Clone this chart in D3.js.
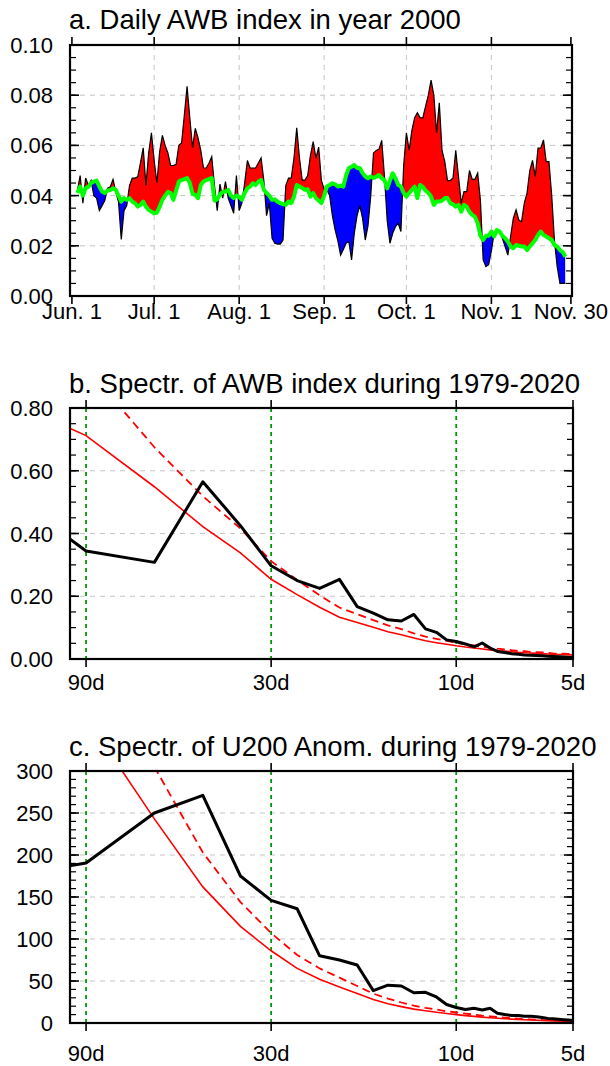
<!DOCTYPE html>
<html lang="en">
<head>
<meta charset="UTF-8">
<title>AWB index and spectra</title>
<style>
  body { margin: 0; background: #fff; }
  text { font-family: "Liberation Sans", Arial, Helvetica, sans-serif; fill: #000; }
  .title { font-size: 27.5px; }
  .tlab { font-size: 22px; }
</style>
</head>
<body>
<svg id="fig" width="610" height="1066"></svg>
<script src="https://d3js.org/d3.v7.min.js"></script>
<script>
// ---- panel a: daily AWB index (Jun 3 .. Nov 28, day 0 = Jun 1) ----
var days = d3.range(2, 181);
var awb = [
  0.042, 0.048, 0.037, 0.047, 0.044, 0.046, 0.040, 0.039, 0.034, 0.036,
  0.038, 0.043, 0.0435, 0.0465, 0.0415, 0.0375, 0.0225, 0.034, 0.036, 0.044,
  0.047, 0.047, 0.0475, 0.053, 0.059, 0.044, 0.057, 0.065, 0.054, 0.045,
  0.0575, 0.064, 0.060, 0.057, 0.052, 0.052, 0.0525, 0.060, 0.061, 0.072,
  0.0835, 0.071, 0.059, 0.0668, 0.063, 0.058, 0.051, 0.051, 0.053, 0.0555,
  0.044, 0.034, 0.0446, 0.039, 0.0456, 0.039, 0.036, 0.033, 0.048, 0.034,
  0.037, 0.045, 0.054, 0.051, 0.051, 0.051, 0.053, 0.055, 0.046, 0.032,
  0.037, 0.023, 0.021, 0.0207, 0.0207, 0.0223, 0.044, 0.047, 0.047, 0.055,
  0.067, 0.055, 0.0462, 0.0462, 0.048, 0.056, 0.0615, 0.0549, 0.0593, 0.046,
  0.0425, 0.0423, 0.040, 0.032, 0.0263, 0.022, 0.0163, 0.0185, 0.021, 0.0217,
  0.0144, 0.025, 0.032, 0.036, 0.031, 0.0223, 0.028, 0.040, 0.057, 0.058,
  0.0585, 0.062, 0.0476, 0.030, 0.021, 0.025, 0.0276, 0.029, 0.0257, 0.052,
  0.065, 0.058, 0.066, 0.071, 0.073, 0.071, 0.071, 0.0756, 0.080, 0.086,
  0.080, 0.065, 0.077, 0.058, 0.0535, 0.046, 0.046, 0.047, 0.058, 0.0476,
  0.037, 0.0416, 0.0416, 0.050, 0.0465, 0.0465, 0.049, 0.038, 0.0144, 0.0117,
  0.0125, 0.018, 0.025, 0.0256, 0.0257, 0.023, 0.0197, 0.0163, 0.0237, 0.031,
  0.0343, 0.0303, 0.0296, 0.037, 0.041, 0.050, 0.054, 0.0476, 0.0589, 0.0589,
  0.0622, 0.0535, 0.0535, 0.040, 0.022, 0.0117, 0.005, 0.005, 0.005
];
var clim = [
  0.041, 0.0436, 0.040, 0.043, 0.0435, 0.045, 0.0456, 0.046, 0.0436, 0.0416,
  0.041, 0.042, 0.0422, 0.0429, 0.0423, 0.040, 0.0376, 0.039, 0.0383, 0.039,
  0.0376, 0.037, 0.0356, 0.0363, 0.0376, 0.0356, 0.0343, 0.0336, 0.033, 0.0332,
  0.0356, 0.0383, 0.040, 0.0415, 0.041, 0.0383, 0.042, 0.0456, 0.0462, 0.0466,
  0.047, 0.045, 0.0407, 0.0403, 0.039, 0.0442, 0.0456, 0.0462, 0.0466, 0.047,
  0.038, 0.0385, 0.0405, 0.0414, 0.0416, 0.0423, 0.040, 0.039, 0.040, 0.0395,
  0.0383, 0.041, 0.0429, 0.0436, 0.0449, 0.0442, 0.0455, 0.0462, 0.0423, 0.041,
  0.040, 0.0383, 0.0385, 0.0376, 0.037, 0.0366, 0.0363, 0.0376, 0.037, 0.0396,
  0.0442, 0.0436, 0.043, 0.0423, 0.0425, 0.0396, 0.041, 0.039, 0.038, 0.037,
  0.040, 0.0436, 0.0442, 0.0449, 0.0445, 0.0436, 0.044, 0.0436, 0.048, 0.051,
  0.0515, 0.0522, 0.051, 0.051, 0.049, 0.0476, 0.0469, 0.0476, 0.047, 0.0475,
  0.0482, 0.0469, 0.0462, 0.0429, 0.046, 0.0489, 0.0469, 0.0442, 0.0436, 0.041,
  0.0396, 0.041, 0.0423, 0.0436, 0.039, 0.0442, 0.0435, 0.042, 0.041, 0.0396,
  0.0363, 0.0376, 0.0376, 0.038, 0.039, 0.039, 0.037, 0.0365, 0.0356, 0.0363,
  0.0336, 0.0363, 0.0356, 0.0335, 0.0323, 0.0316, 0.029, 0.024, 0.0223, 0.024,
  0.024, 0.0257, 0.0237, 0.0263, 0.0257, 0.024, 0.023, 0.0217, 0.0197, 0.019,
  0.0203, 0.020, 0.0197, 0.0197, 0.0183, 0.0197, 0.021, 0.0223, 0.0243, 0.0257,
  0.0243, 0.0237, 0.023, 0.0223, 0.0203, 0.0197, 0.0183, 0.0175, 0.0157
];
var monthDays = [0, 30, 61, 92, 122, 153, 182];
var monthLabels = ["Jun. 1", "Jul. 1", "Aug. 1", "Sep. 1", "Oct. 1", "Nov. 1", "Nov. 30"];

// ---- panels b, c: spectra at periods 180/k days ----
var periods = [180, 90, 60, 45, 36, 30, 25.71, 22.5, 20, 18, 16.36, 15, 13.85, 12.86, 12, 11.25,
  10.59, 10, 9.47, 9, 8.57, 8.18, 7.83, 7.5, 7.2, 6.92, 6.67, 6.43, 6.21, 6, 5.81, 5.63, 5.45, 5.29, 5.14, 5];
var awbSpec = [0.62, 0.344, 0.308, 0.565, 0.425, 0.297, 0.25, 0.225, 0.254, 0.167, 0.146, 0.125,
  0.121, 0.142, 0.096, 0.085, 0.061, 0.056, 0.048, 0.039, 0.051, 0.035, 0.024, 0.021, 0.017,
  0.015, 0.013, 0.012, 0.011, 0.010, 0.009, 0.008, 0.007, 0.006, 0.005, 0.005];
var awbRed = [0.88, 0.712, 0.549, 0.422, 0.338, 0.254, 0.205, 0.165, 0.133, 0.116, 0.101, 0.087,
  0.077, 0.067, 0.058, 0.052, 0.047, 0.042, 0.038, 0.035, 0.032, 0.029, 0.027, 0.025, 0.023,
  0.021, 0.020, 0.019, 0.018, 0.017, 0.016, 0.015, 0.014, 0.014, 0.013, 0.013];
var awbSig = [1.15, 0.93, 0.675, 0.519, 0.416, 0.312, 0.252, 0.203, 0.164, 0.143, 0.124, 0.107,
  0.095, 0.082, 0.071, 0.064, 0.058, 0.052, 0.047, 0.043, 0.039, 0.036, 0.033, 0.031, 0.028,
  0.026, 0.025, 0.023, 0.022, 0.021, 0.020, 0.018, 0.017, 0.017, 0.016, 0.016];
var u200Spec = [167, 190.5, 250, 271, 175, 146, 136, 80, 75, 69, 38.5, 45, 44, 36, 36.5, 31,
  22, 18.5, 16, 17.5, 15.5, 17.5, 11.5, 10, 9, 9, 8, 8, 7.5, 6.5, 5.5, 5, 4.5, 4, 3.5, 3];
var u200Red = [480, 364, 243, 162, 115, 86, 65, 52, 43, 35, 28, 23, 19.5, 16.5, 14.5, 12.8,
  11.3, 10, 8.8, 7.9, 7, 6.3, 5.7, 5.1, 4.6, 4.2, 3.8, 3.5, 3.2, 2.9, 2.7, 2.5, 2.3, 2.1, 2.0, 1.9];
var u200Sig = [600, 455, 305, 203, 144, 107, 81, 65, 54, 44, 35, 29, 24.4, 20.6, 18, 16,
  14, 12.5, 11.2, 10, 8.8, 7.9, 7.1, 6.4, 5.8, 5.2, 4.8, 4.4, 4, 3.6, 3.4, 3.1, 2.9, 2.6, 2.5, 2.4];
var periodTicks = [90, 30, 10, 5];
var periodLabels = ["90d", "30d", "10d", "5d"];

var svg = d3.select("#fig");
var defs = svg.append("defs");

// gridlines, inward y ticks on both sides, frame
function yFurniture(g, box, y, majors, minors, fmt) {
  g.selectAll(".hgrid").data(majors.slice(1, -1)).enter().append("line")
    .attr("x1", box.left).attr("x2", box.right)
    .attr("y1", function(d) { return y(d); }).attr("y2", function(d) { return y(d); })
    .attr("stroke", "#c4c4c4").attr("stroke-width", 1).attr("stroke-dasharray", "5,5");
  [box.left, box.right].forEach(function(x0) {
    var dir = x0 == box.left ? 1 : -1;
    g.selectAll(null).data(minors).enter().append("line")
      .attr("x1", x0).attr("x2", x0 + dir * 6)
      .attr("y1", function(d) { return y(d); }).attr("y2", function(d) { return y(d); })
      .attr("stroke", "#000").attr("stroke-width", 1.2);
    g.selectAll(null).data(majors).enter().append("line")
      .attr("x1", x0).attr("x2", x0 + dir * 9)
      .attr("y1", function(d) { return y(d); }).attr("y2", function(d) { return y(d); })
      .attr("stroke", "#000").attr("stroke-width", 1.6);
  });
  g.selectAll(".ylab").data(majors).enter().append("text")
    .attr("class", "tlab")
    .attr("x", 53).attr("y", function(d) { return y(d) + 8; })
    .attr("text-anchor", "end")
    .text(fmt);
}

function xTicks(g, box, x, vals, labels, labelY) {
  [box.bottom, box.top].forEach(function(y0) {
    var dir = y0 == box.bottom ? 1 : -1;
    g.selectAll(null).data(vals).enter().append("line")
      .attr("x1", function(d) { return x(d); }).attr("x2", function(d) { return x(d); })
      .attr("y1", y0).attr("y2", y0 + dir * 8)
      .attr("stroke", "#000").attr("stroke-width", 1.6);
  });
  g.selectAll(null).data(vals).enter().append("text")
    .attr("class", "tlab")
    .attr("x", function(d) { return x(d); }).attr("y", labelY)
    .attr("text-anchor", "middle")
    .text(function(d, i) { return labels[i]; });
}

function frame(g, box) {
  g.append("rect")
    .attr("x", box.left).attr("y", box.top)
    .attr("width", box.right - box.left).attr("height", box.bottom - box.top)
    .attr("fill", "none").attr("stroke", "#000").attr("stroke-width", 2.2);
}

function addClip(id, box) {
  defs.append("clipPath").attr("id", id).append("rect")
    .attr("x", box.left).attr("y", box.top)
    .attr("width", box.right - box.left).attr("height", box.bottom - box.top);
}

// ================= panel a =================
var boxA = { left: 70, right: 572, top: 45, bottom: 296 };
var xa = d3.scaleLinear().domain([-0.7, 182.4]).range([boxA.left, boxA.right]);
var ya = d3.scaleLinear().domain([0, 0.1]).range([boxA.bottom, boxA.top]);
var ga = svg.append("g");
addClip("clipA", boxA);

var series = days.map(function(d, i) { return { day: d, awb: awb[i], clim: clim[i] }; });

// clip regions above / below the green reference line
defs.append("clipPath").attr("id", "aboveClim").append("path")
  .attr("d", d3.area().x(function(d) { return xa(d.day); })
    .y0(boxA.top).y1(function(d) { return ya(d.clim); })(series));
defs.append("clipPath").attr("id", "belowClim").append("path")
  .attr("d", d3.area().x(function(d) { return xa(d.day); })
    .y0(function(d) { return ya(d.clim); }).y1(boxA.bottom)(series));

ga.selectAll(".vgrid").data(monthDays.slice(1, -1)).enter().append("line")
  .attr("x1", function(d) { return xa(d); }).attr("x2", function(d) { return xa(d); })
  .attr("y1", boxA.top).attr("y2", boxA.bottom)
  .attr("stroke", "#c4c4c4").attr("stroke-width", 1).attr("stroke-dasharray", "5,5");

yFurniture(ga, boxA, ya, [0, 0.02, 0.04, 0.06, 0.08, 0.1], d3.range(0, 0.1001, 0.005), d3.format(".2f"));

var band = d3.area()
  .x(function(d) { return xa(d.day); })
  .y0(function(d) { return ya(d.clim); })
  .y1(function(d) { return ya(d.awb); });

var plotA = ga.append("g").attr("clip-path", "url(#clipA)");
plotA.append("path").attr("d", band(series)).attr("fill", "#ff0000").attr("clip-path", "url(#aboveClim)");
plotA.append("path").attr("d", band(series)).attr("fill", "#0000ff").attr("clip-path", "url(#belowClim)");
plotA.append("path")
  .attr("d", d3.line().x(function(d) { return xa(d.day); }).y(function(d) { return ya(d.awb); })(series))
  .attr("fill", "none").attr("stroke", "#000").attr("stroke-width", 1.2);
plotA.append("path")
  .attr("d", d3.line().x(function(d) { return xa(d.day); }).y(function(d) { return ya(d.clim); })(series))
  .attr("fill", "none").attr("stroke", "#00ff00").attr("stroke-width", 4).attr("stroke-linejoin", "round");

frame(ga, boxA);
xTicks(ga, boxA, xa, monthDays, monthLabels, 319);
ga.append("text").attr("class", "title").attr("x", 69).attr("y", 29)
  .text("a. Daily AWB index in year 2000");

// ================= panels b, c =================
function spectrum(opt) {
  var box = opt.box;
  var x = d3.scaleLog().domain([99, 5]).range([box.left, box.right]);
  var y = d3.scaleLinear().domain([0, opt.ymax]).range([box.bottom, box.top]);
  var g = svg.append("g");
  addClip(opt.id, box);

  yFurniture(g, box, y, opt.majors, opt.minors, opt.fmt);

  // green dashed period markers
  g.selectAll(".pgrid").data(periodTicks.slice(0, 3)).enter().append("line")
    .attr("x1", function(d) { return x(d); }).attr("x2", function(d) { return x(d); })
    .attr("y1", box.top).attr("y2", box.bottom)
    .attr("stroke", "#009a00").attr("stroke-width", 1.8).attr("stroke-dasharray", "4,4");

  var pts = periods.map(function(p, i) { return { p: p, s: opt.spec[i], r: opt.red[i], q: opt.sig[i] }; });
  var plot = g.append("g").attr("clip-path", "url(#" + opt.id + ")");
  function line(key) {
    return d3.line().x(function(d) { return x(d.p); }).y(function(d) { return y(d[key]); })(pts);
  }
  plot.append("path").attr("d", line("r"))
    .attr("fill", "none").attr("stroke", "#ff0000").attr("stroke-width", 1.6);
  plot.append("path").attr("d", line("q"))
    .attr("fill", "none").attr("stroke", "#ff0000").attr("stroke-width", 1.8).attr("stroke-dasharray", "8,5");
  plot.append("path").attr("d", line("s"))
    .attr("fill", "none").attr("stroke", "#000").attr("stroke-width", 3).attr("stroke-linejoin", "round");

  frame(g, box);
  xTicks(g, box, x, periodTicks, periodLabels, opt.labelY);
  g.append("text").attr("class", "title").attr("x", 69).attr("y", box.top - 15).text(opt.title);
}

spectrum({
  id: "clipB", box: { left: 70, right: 573, top: 408, bottom: 659 },
  ymax: 0.8, majors: [0, 0.2, 0.4, 0.6, 0.8], minors: d3.range(0, 0.8001, 0.05), fmt: d3.format(".2f"),
  spec: awbSpec, red: awbRed, sig: awbSig, labelY: 690,
  title: "b. Spectr. of AWB index during 1979-2020"
});

spectrum({
  id: "clipC", box: { left: 70, right: 573, top: 771, bottom: 1023 },
  ymax: 300, majors: [0, 50, 100, 150, 200, 250, 300], minors: d3.range(0, 301, 10), fmt: d3.format("d"),
  spec: u200Spec, red: u200Red, sig: u200Sig, labelY: 1061,
  title: "c. Spectr. of U200 Anom. during 1979-2020"
});
</script>
</body>
</html>
